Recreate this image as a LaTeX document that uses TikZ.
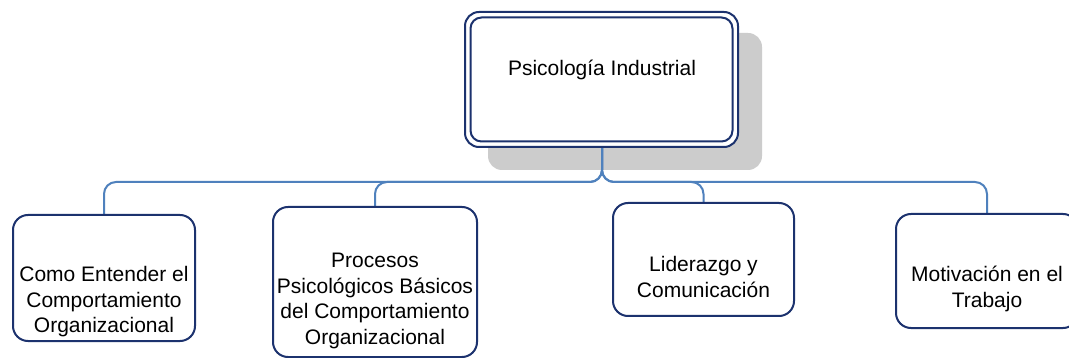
\documentclass[tikz,border=0pt]{standalone}
\usepackage{fontspec}
\setmainfont{Liberation Sans}
\definecolor{navy}{RGB}{28,50,110}
\definecolor{linkblue}{RGB}{79,129,189}
\definecolor{shadowgray}{RGB}{204,204,204}
\begin{document}
\begin{tikzpicture}[x=1pt,y=-1pt,
  box/.style={draw=navy,line width=2pt,rounded corners=15pt,fill=white},
  lbl/.style={align=center,font=\fontsize{21}{25.5}\selectfont,text=black,inner sep=0pt},
  link/.style={draw=linkblue,line width=2pt,rounded corners=12pt}]
\clip (0,0) rectangle (1069,358);
\fill[white] (0,0) rectangle (1069,358);
% top box shadow
\fill[fill=shadowgray,rounded corners=14pt] (488,33) rectangle (762,170);
% connectors
\coordinate (stem) at (602,146);
\coordinate (c1) at (104,215);
\coordinate (c2) at (375,207);
\coordinate (c3) at (703.5,203);
\coordinate (c4) at (987,214);
\draw[link] (stem) |- (104,182) -- (c1);
\draw[link] (stem) |- (375,182) -- (c2);
\draw[link] (stem) |- (703.5,182) -- (c3);
\draw[link] (stem) |- (987,182) -- (c4);
% top box (double border)
\draw[navy,line width=2pt,rounded corners=14pt,fill=white] (465,12) rectangle (738,147);
\draw[navy,line width=2pt,rounded corners=11pt] (470.5,17.5) rectangle (732.5,141.5);
\node[lbl] (top) at (602,70) {Psicología Industrial};
% lower boxes
\draw[box] (13,215) rectangle (195,341);
\draw[box] (273,207) rectangle (477,357);
\draw[box] (613,203) rectangle (794,316);
\draw[box] (896,214) rectangle (1078,328);
\node[lbl] (b1) at (104,302) {Como Entender el\\Comportamiento\\Organizacional};
\node[lbl] (b2) at (375,301) {Procesos\\Psicológicos Básicos\\del Comportamiento\\Organizacional};
\node[lbl] (b3) at (703.5,277) {Liderazgo y\\Comunicación};
\node[lbl] (b4) at (987,289) {Motivación en el\\Trabajo};
\end{tikzpicture}
\end{document}
